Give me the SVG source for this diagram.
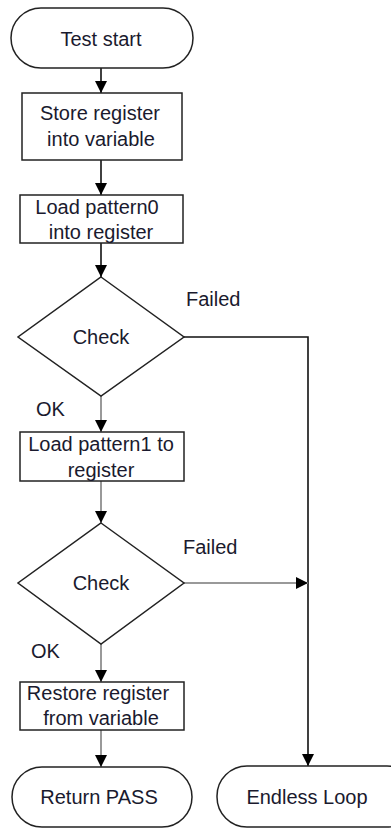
<svg xmlns="http://www.w3.org/2000/svg" width="391" height="828" viewBox="0 0 391 828">
<defs>
<style>
.sh{fill:#fff;stroke:#222;stroke-width:1.5}
.t{font-family:"Liberation Sans",Arial,sans-serif;font-size:20px;fill:#1a1a2e;text-anchor:middle}
.l{font-family:"Liberation Sans",Arial,sans-serif;font-size:20px;fill:#1a1a2e}
.c{fill:none;stroke:#111;stroke-width:1.6}
.g{fill:none;stroke:#999;stroke-width:2}
</style>
<marker id="ah" viewBox="0 0 12 12" refX="12" refY="6" markerWidth="12" markerHeight="12" markerUnits="userSpaceOnUse" orient="auto">
<path d="M0,0 L12,6 L0,12 z" fill="#000"/>
</marker>
</defs>
<g id="connectors">
<line class="c" x1="101" y1="68" x2="101" y2="93" marker-end="url(#ah)"/>
<line class="c" x1="101" y1="160" x2="101" y2="195" marker-end="url(#ah)"/>
<line class="c" x1="101" y1="243" x2="101" y2="277" marker-end="url(#ah)"/>
<polyline class="c" points="184,337 308,337 308,766" marker-end="url(#ah)"/>
<line class="g" x1="101" y1="396" x2="101" y2="432" marker-end="url(#ah)"/>
<line class="g" x1="101" y1="481" x2="101" y2="523" marker-end="url(#ah)"/>
<line class="g" x1="184" y1="583" x2="308" y2="583" marker-end="url(#ah)"/>
<line class="g" x1="101" y1="644" x2="101" y2="682" marker-end="url(#ah)"/>
<line class="g" x1="101" y1="730" x2="101" y2="767" marker-end="url(#ah)"/>
</g>
<g id="test-start"><rect class="sh" x="11" y="8" width="182" height="60" rx="30"/><text class="t" x="101" y="46">Test start</text></g>
<g id="store"><rect class="sh" x="22" y="93" width="160" height="67"/><text class="t" x="100" y="120">Store register</text><text class="t" x="101" y="146">into variable</text></g>
<g id="load0"><rect class="sh" x="20" y="195" width="163" height="48"/><text class="t" x="97" y="214">Load pattern0</text><text class="t" x="101" y="239">into register</text></g>
<g id="check1"><polygon class="sh" points="101,277 184,337 101,396 18,337"/><text class="t" x="101" y="344">Check</text></g>
<g id="load1"><rect class="sh" x="20" y="432" width="164" height="49"/><text class="t" x="101" y="451">Load pattern1 to</text><text class="t" x="101" y="477">register</text></g>
<g id="check2"><polygon class="sh" points="101,523 184,583 101,644 18,583"/><text class="t" x="101" y="590">Check</text></g>
<g id="restore"><rect class="sh" x="20" y="682" width="164" height="48"/><text class="t" x="98" y="700">Restore register</text><text class="t" x="101" y="725">from variable</text></g>
<g id="return-pass"><rect class="sh" x="12" y="767" width="180" height="60" rx="30"/><text class="t" x="99" y="804">Return PASS</text></g>
<g id="endless-loop"><rect class="sh" x="217" y="766" width="200" height="61" rx="30"/><text class="t" x="307" y="804">Endless Loop</text></g>
<g id="labels">
<text class="l" x="186" y="306">Failed</text>
<text class="l" x="36" y="416">OK</text>
<text class="l" x="183" y="554">Failed</text>
<text class="l" x="31" y="658">OK</text>
</g>
</svg>
